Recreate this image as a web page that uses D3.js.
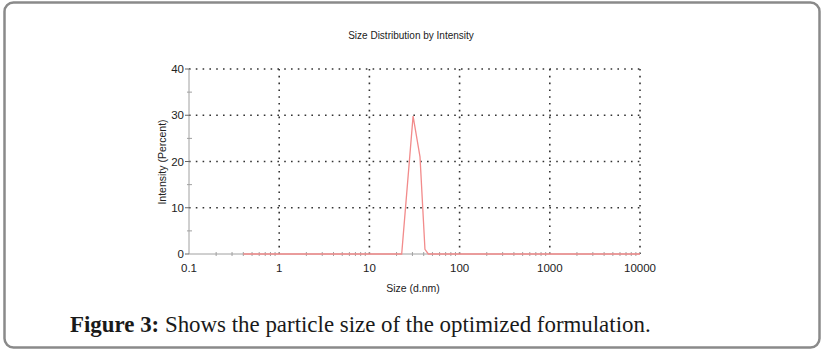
<!DOCTYPE html>
<html>
<head>
<meta charset="utf-8">
<script src="https://cdn.jsdelivr.net/npm/d3@7"></script>
<style>
  body { margin: 0; background: #fff; }
  svg { display: block; }
</style>
</head>
<body>
<svg id="chart" width="826" height="354"></svg>
<script>
// size (d.nm) vs intensity (%)
const sizes = [0.4, 1, 10, 22.8, 30.5, 36.4, 41.3, 45, 100, 1000, 10000];
const intensity = [0, 0, 0, 0, 29.8, 21, 1, 0, 0, 0, 0];
const xTicks = [0.1, 1, 10, 100, 1000, 10000];
const yTicks = [0, 10, 20, 30, 40];
const yMinor = [5, 15, 25, 35];

const svg = d3.select('#chart');
const font = 'Arial, "Liberation Sans", sans-serif';

// outer frame
svg.append('rect')
  .attr('x', 4.5).attr('y', 2.5)
  .attr('width', 815).attr('height', 345)
  .attr('rx', 9)
  .attr('fill', 'none')
  .attr('stroke', '#8a8a8a')
  .attr('stroke-width', 2.5);

const x = d3.scaleLog().domain([0.1, 10000]).range([189, 640]);
const y = d3.scaleLinear().domain([0, 40]).range([254, 69]);

// minor x ticks (2..9 in each decade)
const xMinor = [];
for (let d = 0.1; d < 10000; d *= 10) {
  for (let k = 2; k <= 9; k++) xMinor.push(d * k);
}

const grid = svg.append('g')
  .attr('stroke', '#333')
  .attr('stroke-width', 1.6)
  .attr('stroke-dasharray', '1.6,5.2');

grid.selectAll('line.v')
  .data(xTicks.slice(1))
  .join('line')
  .attr('x1', d => x(d)).attr('x2', d => x(d))
  .attr('y1', y(40)).attr('y2', y(0));

grid.selectAll('line.h')
  .data(yTicks.slice(1))
  .join('line')
  .attr('x1', x(0.1)).attr('x2', x(10000))
  .attr('y1', d => y(d)).attr('y2', d => y(d));

// axes lines
const axes = svg.append('g').attr('stroke', '#a0a0a0').attr('stroke-width', 1);
axes.append('line')
  .attr('x1', x(0.1)).attr('x2', x(0.1))
  .attr('y1', y(40)).attr('y2', y(0));
axes.append('line')
  .attr('x1', x(0.1)).attr('x2', x(10000))
  .attr('y1', y(0)).attr('y2', y(0));

axes.selectAll('line.ym')
  .data(yMinor)
  .join('line')
  .attr('x1', x(0.1) - 2).attr('x2', x(0.1) + 3)
  .attr('y1', d => y(d)).attr('y2', d => y(d));
axes.selectAll('line.yt')
  .data(yTicks)
  .join('line')
  .attr('x1', x(0.1) - 4).attr('x2', x(0.1))
  .attr('y1', d => y(d)).attr('y2', d => y(d))
  .attr('stroke', '#666');

axes.selectAll('line.xm')
  .data(xMinor)
  .join('line')
  .attr('x1', d => x(d)).attr('x2', d => x(d))
  .attr('y1', y(0) - 2).attr('y2', y(0) + 2);

// data line
const line = d3.line()
  .x((d, i) => x(sizes[i]))
  .y(d => y(d));

svg.append('path')
  .datum(intensity)
  .attr('d', line)
  .attr('fill', 'none')
  .attr('stroke', '#f28b8b')
  .attr('stroke-width', 1.3);

// tick labels
svg.append('g')
  .selectAll('text')
  .data(yTicks)
  .join('text')
  .attr('x', x(0.1) - 5)
  .attr('y', d => y(d) + 4)
  .attr('text-anchor', 'end')
  .attr('font-family', font)
  .attr('font-size', 11.5)
  .attr('fill', '#222')
  .text(d => d);

svg.append('g')
  .selectAll('text')
  .data(xTicks)
  .join('text')
  .attr('x', d => x(d))
  .attr('y', y(0) + 18)
  .attr('text-anchor', 'middle')
  .attr('font-family', font)
  .attr('font-size', 11.5)
  .attr('fill', '#222')
  .text(d => d);

// titles
svg.append('text')
  .attr('x', 411).attr('y', 39)
  .attr('text-anchor', 'middle')
  .attr('font-family', font)
  .attr('font-size', 10)
  .attr('fill', '#222')
  .text('Size Distribution by Intensity');

svg.append('text')
  .attr('x', 413).attr('y', 292)
  .attr('text-anchor', 'middle')
  .attr('font-family', font)
  .attr('font-size', 10.5)
  .attr('fill', '#222')
  .text('Size (d.nm)');

svg.append('text')
  .attr('transform', 'translate(166,162) rotate(-90)')
  .attr('text-anchor', 'middle')
  .attr('font-family', font)
  .attr('font-size', 10.5)
  .attr('fill', '#222')
  .text('Intensity (Percent)');

// caption
const cap = svg.append('text')
  .attr('x', 70).attr('y', 332)
  .attr('font-family', '"Liberation Serif", "DejaVu Serif", serif')
  .attr('font-size', 19)
  .attr('fill', '#1a1a1a');
cap.append('tspan').attr('font-weight', 'bold').text('Figure 3:');
cap.append('tspan').text(' Shows the particle size of the optimized formulation.');

// fit the caption to the reference width
const w = cap.node().getComputedTextLength();
cap.attr('font-size', 19 * 581 / w);
</script>
</body>
</html>
